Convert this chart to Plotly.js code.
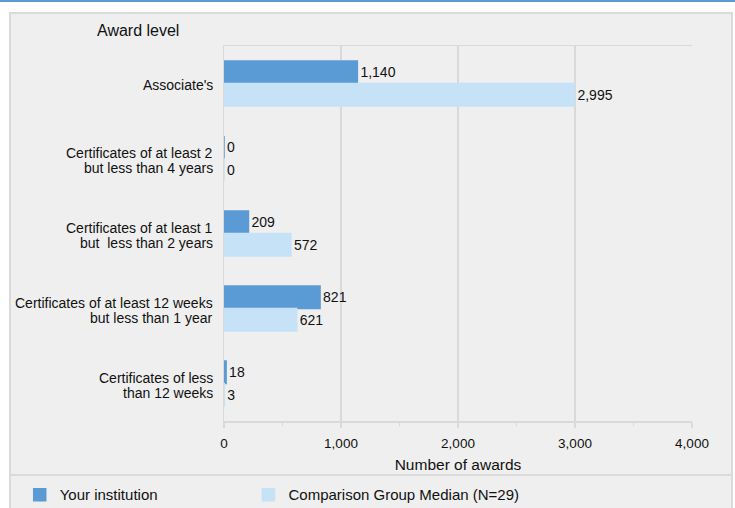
<!DOCTYPE html>
<html>
<head>
<meta charset="utf-8">
<script src="https://cdn.plot.ly/plotly-3.0.1.min.js"></script>
<style>
  html, body { margin: 0; padding: 0; background: #ffffff; }
  #wrap { position: relative; width: 735px; height: 508px; overflow: hidden; }
  #topline { position: absolute; left: 0; top: 0; width: 735px; height: 2px; background: #5b9bd5; }
  #panel { position: absolute; left: 9px; top: 12px; width: 720px; height: 520px;
           background: #efefef; border: 2px solid #dadada; }
  #sep { position: absolute; left: 9px; top: 474px; width: 722px; height: 2px; background: #dadada; }
  #chart { position: absolute; left: 0; top: 0; width: 735px; height: 508px; }
</style>
</head>
<body>
<div id="wrap">
  <div id="topline"></div>
  <div id="panel"></div>
  <div id="sep"></div>
  <div id="chart"></div>
</div>
<script>
// Award levels (top to bottom)
const categories = [
  "Associate's",
  "Certificates of at least 2<br>but less than 4 years",
  "Certificates of at least 1<br>but\u00a0 less than 2 years",
  "Certificates of at least 12 weeks<br>but less than 1 year",
  "Certificates of less<br>than 12 weeks"
];
const yourInstitution = [1140, 0, 209, 821, 18];
const comparisonMedian = [2995, 0, 572, 621, 3];
const seriesNames = ["Your institution", "Comparison Group Median (N=29)"];
const xTickValues = [0, 1000, 2000, 3000, 4000];
const xTickLabels = ["0", "1,000", "2,000", "3,000", "4,000"];

const FONT = "Liberation Sans, Arial, sans-serif";
const DARK = "#5b9bd5", LIGHT = "#c5e2f7";

const traces = [
  {
    type: "bar", orientation: "h", name: seriesNames[0], legend: "legend",
    y: categories, x: yourInstitution,
    marker: { color: DARK, line: { color: DARK, width: 1.5 } },
    text: yourInstitution.map(v => v.toLocaleString("en-US")),
    textposition: "outside", cliponaxis: false, constraintext: "none",
    textfont: { family: FONT, size: 14, color: "#111" },
    hoverinfo: "x"
  },
  {
    type: "bar", orientation: "h", name: seriesNames[1], legend: "legend2",
    y: categories, x: comparisonMedian,
    marker: { color: LIGHT, line: { color: LIGHT, width: 1.5 } },
    text: comparisonMedian.map(v => v.toLocaleString("en-US")),
    textposition: "outside", cliponaxis: false, constraintext: "none",
    textfont: { family: FONT, size: 14, color: "#111" },
    hoverinfo: "x"
  }
];

// Category labels drawn line by line (tighter line spacing than tick labels)
const LINE_GAP = 15;
const catAnnotations = [];
categories.forEach(cat => {
  const lines = cat.split("<br>");
  const n = lines.length;
  lines.forEach((ln, j) => {
    catAnnotations.push({
      text: ln, xref: "paper", yref: "y", x: 0, y: cat,
      xanchor: "right", yanchor: "middle", xshift: -9,
      yshift: ((n - 1) / 2 - j) * LINE_GAP - 1.5,
      showarrow: false, font: { family: FONT, size: 14, color: "#111" }
    });
  });
});

const legendBase = {
  orientation: "h", xanchor: "left", y: -0.197, yanchor: "middle",
  font: { family: FONT, size: 15, color: "#111" },
  bgcolor: "rgba(0,0,0,0)", borderwidth: 0
};

const layout = {
  width: 735, height: 508,
  margin: { l: 223.5, r: 43, t: 46, b: 87, autoexpand: false },
  paper_bgcolor: "rgba(0,0,0,0)",
  plot_bgcolor: "rgba(0,0,0,0)",
  font: { family: FONT, size: 14, color: "#111" },
  barmode: "group",
  bargap: 0.4,
  bargroupgap: 0,
  showlegend: true,
  legend: Object.assign({}, legendBase, { x: -0.4365 }),
  legend2: Object.assign({}, legendBase, { x: 0.0523 }),
  xaxis: {
    range: [0, 4000], automargin: false,
    tickvals: xTickValues, ticktext: xTickLabels,
    showgrid: true, gridcolor: "#d9d9d9", gridwidth: 1.5,
    zeroline: false,
    showline: true, linecolor: "#d9d9d9", linewidth: 1.5, mirror: true,
    ticks: "outside", ticklen: 5, tickcolor: "#d9d9d9", tickwidth: 1.5,
    minor: { dtick: 500, ticks: "outside", ticklen: 3, tickcolor: "#d9d9d9", tickwidth: 1.5, showgrid: false },
    ticklabelstandoff: 4,
    tickfont: { family: FONT, size: 13.5, color: "#111" },
    title: { text: "Number of awards", standoff: 9, font: { family: FONT, size: 15.5, color: "#111" } },
    fixedrange: true
  },
  yaxis: {
    autorange: "reversed", automargin: false,
    showgrid: false, zeroline: false,
    showline: true, linecolor: "#d9d9d9", linewidth: 1.5,
    ticks: "", showticklabels: false,
    fixedrange: true
  },
  annotations: [
    {
      text: "Award level", xref: "paper", yref: "paper",
      x: -0.276, y: 1.042, xanchor: "left", yanchor: "middle",
      showarrow: false, font: { family: FONT, size: 16, color: "#111" }
    }
  ].concat(catAnnotations)
};

Plotly.newPlot("chart", traces, layout, { displayModeBar: false, staticPlot: true });
</script>
</body>
</html>
